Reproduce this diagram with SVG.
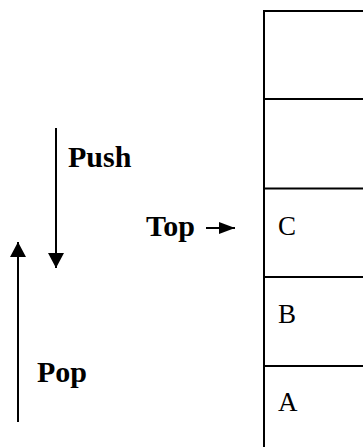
<svg xmlns="http://www.w3.org/2000/svg" width="363" height="447" viewBox="0 0 363 447">
<defs>
<style>
.lbl{font-family:"Liberation Serif","Times New Roman",serif;font-weight:bold;font-size:30px;fill:#000}
.cell{font-family:"Liberation Serif","Times New Roman",serif;font-size:27px;fill:#000}
.ln{stroke:#000;stroke-width:2;fill:none}
</style>
<marker id="ah" viewBox="0 0 16 12" refX="16" refY="6" markerWidth="16" markerHeight="12" markerUnits="userSpaceOnUse" orient="auto"><path d="M0,0 L16,6 L0,12 Z" fill="#000"/></marker>
<marker id="ahb" viewBox="0 0 15 16" refX="15" refY="8" markerWidth="15" markerHeight="16" markerUnits="userSpaceOnUse" orient="auto"><path d="M0,0 L15,8 L0,16 Z" fill="#000"/></marker>
</defs>
<rect width="363" height="447" fill="#fff"/>
<g id="stack">
<path class="ln" d="M264,447 V11 H363 M264,99 H363 M264,188.5 H363 M264,277 H363 M264,366 H363"/>
</g>
<g id="cellC"><text class="cell" x="278" y="235">C</text></g>
<g id="cellB"><text class="cell" x="278" y="323">B</text></g>
<g id="cellA"><text class="cell" x="278" y="411">A</text></g>
<g id="push"><text class="lbl" x="68" y="167">Push</text></g>
<g id="pop"><text class="lbl" x="37" y="382">Pop</text></g>
<g id="top"><text class="lbl" x="146" y="236">Top</text></g>
<g id="connectors">
<line class="ln" x1="56" y1="128" x2="56" y2="268" marker-end="url(#ahb)"/>
<line class="ln" x1="18" y1="422" x2="18" y2="242" marker-end="url(#ahb)"/>
<line class="ln" x1="206" y1="228" x2="235" y2="228" marker-end="url(#ah)"/>
</g>
</svg>
